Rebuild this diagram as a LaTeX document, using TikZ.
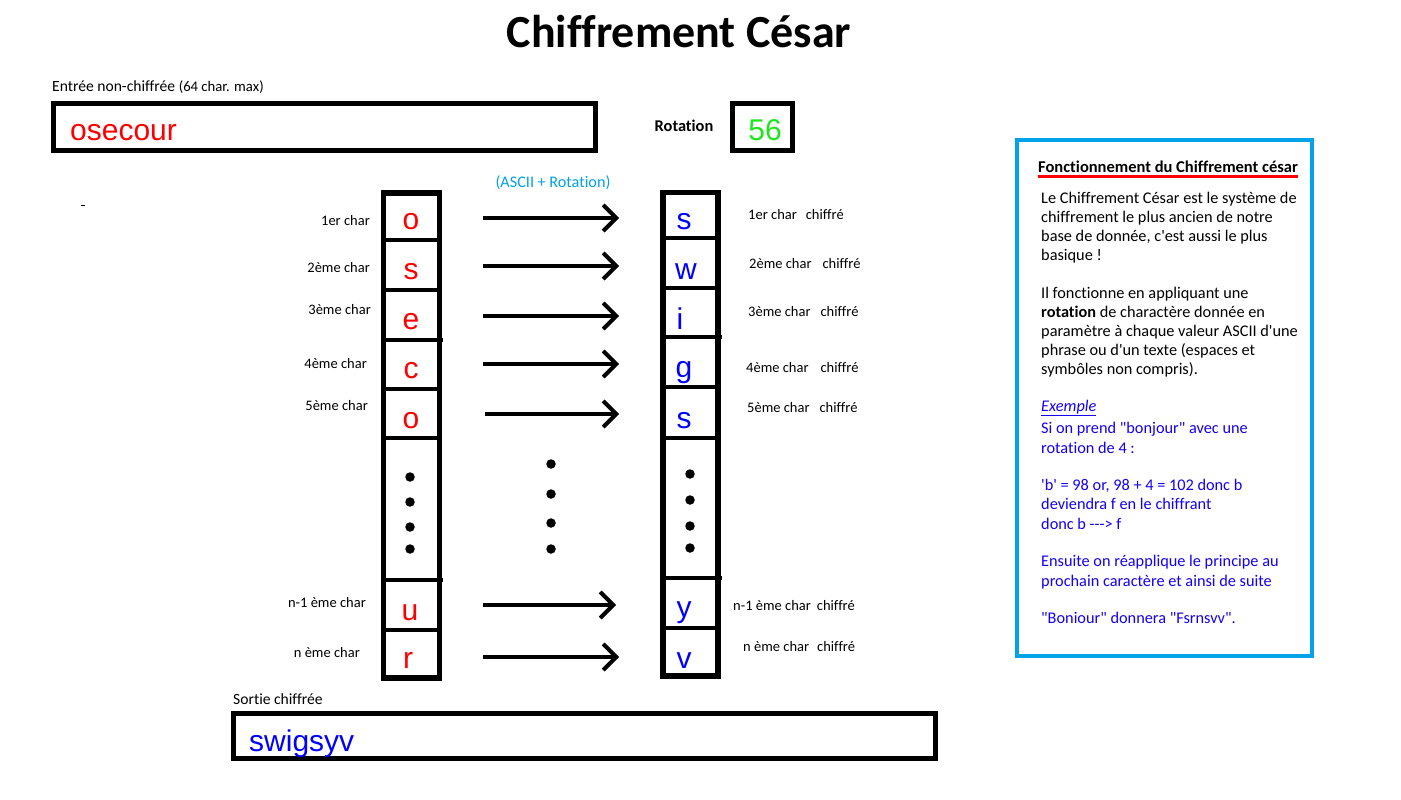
\documentclass[tikz,border=0pt]{standalone}
\usepackage{fontspec}
\setmainfont{Carlito}[Ligatures={TeXOff,NoCommon}]
\newfontfamily\arial{Liberation Sans}
\usetikzlibrary{arrows.meta}
\definecolor{paintblue}{RGB}{0,162,232}
\definecolor{txtblue}{RGB}{20,0,245}
\definecolor{letred}{RGB}{255,0,0}
\definecolor{letblue}{RGB}{0,0,255}
\definecolor{letgreen}{RGB}{30,230,30}
\begin{document}
\begin{tikzpicture}[x=1pt,y=-1pt,
  lbl/.style={font=\fontsize{14.5}{17}\selectfont, inner sep=0},
  midlbl/.style={font=\fontsize{15.6}{18}\selectfont, inner sep=0},
  lblL/.style={lbl, anchor=base east},
  lblR/.style={lbl, anchor=base west},
  bigletter/.style={font=\arial\fontsize{30}{30}\selectfont, inner sep=0, anchor=base},
  redl/.style={bigletter, text=letred},
  bluel/.style={bigletter, text=letblue},
  box/.style={draw, line width=5pt, inner sep=0, outer sep=0, anchor=north west},
  column/.style={draw, line width=5.5pt, inner sep=0, outer sep=0, anchor=north west},
  divider/.style={line width=3.5pt},
  arr/.style={line width=4pt, -{Straight Barb[length=13pt,width=26pt,line width=4pt]}},
  dot/.style={circle, fill, inner sep=0, minimum size=9.5pt},
  para/.style={font=\fontsize{16.3}{19.1}\selectfont, inner sep=0, align=left, anchor=base west}
]
\fill[white] (0,0) rectangle (1401,800);
\useasboundingbox (0,0) rectangle (1401,800);

% title
\node[font=\bfseries\fontsize{46}{46}\selectfont, inner sep=0] (title) at (679,32) {Chiffrement César};

% input
\node[midlbl, anchor=base west] (inlbl) at (52,92) {Entrée non-chiffrée \fontsize{14.7}{16}\selectfont(64 char. max)};
\node[box, minimum width=542pt, minimum height=47pt] (inbox) at (53.5,103.5) {};
\node[bigletter, anchor=base west, text=letred] (intext) at (70,140.5) {osecour};

% rotation
\node[inner sep=0, font=\bfseries\fontsize{16.4}{18}\selectfont] (rotlbl) at (684,126) {Rotation};
\node[box, minimum width=60pt, minimum height=47pt] (rotbox) at (732.5,103.5) {};
\node[bigletter, text=letgreen] (rottext) at (765,140.5) {56};

% stray mark
\draw[line width=1pt] (81,205) -- (85,205);

% columns
\node[column, minimum width=56pt, minimum height=485pt] (colL) at (383.5,193) {};
\node[column, minimum width=55pt, minimum height=483.5pt] (colR) at (663,192.5) {};
\foreach \y in {240,290,389,438,630} \draw[divider] (384,\y) -- (439,\y);
\foreach \y in {340,580} \draw[divider] (381,\y) -- (443,\y);
\foreach \y in {238,288,387,438,628} \draw[divider] (663,\y) -- (718,\y);
\foreach \y in {337,578} \draw[divider] (663,\y) -- (722,\y);

% left letters
\node[redl] (l1) at (411,229) {o};
\node[redl] (l2) at (411,279) {s};
\node[redl] (l3) at (411,329) {e};
\node[redl] (l4) at (411,378) {c};
\node[redl] (l5) at (411,428) {o};
\node[redl] (l6) at (410,620) {u};
\node[redl] (l7) at (408,668) {r};

% right letters
\node[bluel] (r1) at (684,229) {s};
\node[bluel] (r2) at (686,279) {w};
\node[bluel] (r3) at (680,329) {i};
\node[bluel] (r4) at (684,377) {g};
\node[bluel] (r5) at (684,428) {s};
\node[bluel] (r6) at (684,617) {y};
\node[bluel] (r7) at (684,668) {v};

% dots
\foreach \y [count=\i] in {477,502,527,549} \node[dot] (dl\i) at (410,\y) {};
\foreach \y [count=\i] in {464,494,523,549} \node[dot] (dm\i) at (551,\y) {};
\foreach \y [count=\i] in {474,500,526,548} \node[dot] (dr\i) at (690,\y) {};

% arrows
\node[inner sep=0, font=\fontsize{16.2}{18}\selectfont, text=paintblue] (asciilbl) at (553,183) {(ASCII + Rotation)};
\coordinate (a1) at (483,218); \coordinate (b1) at (619,218);
\coordinate (a2) at (483,266); \coordinate (b2) at (619,266);
\coordinate (a3) at (483,316); \coordinate (b3) at (619,316);
\coordinate (a4) at (483,364); \coordinate (b4) at (619,364);
\coordinate (a5) at (485,414); \coordinate (b5) at (619,414);
\coordinate (a6) at (483,605); \coordinate (b6) at (616,605);
\coordinate (a7) at (483,657); \coordinate (b7) at (619,657);
\foreach \i in {1,...,7} \draw[arr] (a\i) -- (b\i);

% left labels
\node[lblL] (ll1) at (370,225) {1er char};
\node[lblL] (ll2) at (370,272) {2ème char};
\node[lblL] (ll3) at (371,314) {3ème char};
\node[lblL] (ll4) at (367,368) {4ème char};
\node[lblL] (ll5) at (368,410) {5ème char};
\node[lblL] (ll6) at (366,607) {n-1 ème char};
\node[lblL] (ll7) at (360,657) {n ème char};

% right labels
\node[lblR] (rl1) at (748,219) {1er char\hspace{9pt}chiffré};
\node[lblR] (rl2) at (749,268) {2ème char\hspace{11pt}chiffré};
\node[lblR] (rl3) at (748,316) {3ème char\hspace{10pt}chiffré};
\node[lblR] (rl4) at (746,372) {4ème char\hspace{12pt}chiffré};
\node[lblR] (rl5) at (747,412) {5ème char\hspace{10pt}chiffré};
\node[lblR] (rl6) at (733,610) {n-1 ème char\hspace{6pt}chiffré};
\node[lblR] (rl7) at (743,651) {n ème char\hspace{8pt}chiffré};

% output
\node[midlbl, anchor=base west] (outlbl) at (233,704) {Sortie chiffrée};
\node[box, minimum width=702pt, minimum height=45pt] (outbox) at (233.5,713.5) {};
\node[bigletter, anchor=base west, text=letblue] (outtext) at (249,751) {swigsyv};

% info panel
\node[draw=paintblue, line width=4pt, inner sep=0, outer sep=0, anchor=north west, minimum width=295pt, minimum height=516pt] (panel) at (1017,140) {};
\node[inner sep=0, anchor=base west, font=\bfseries\fontsize{16.5}{18}\selectfont] (ptitle) at (1038,172) {Fonctionnement du Chiffrement césar};
\draw[line width=2.5pt, letred] (ptitle.base west) ++(0,4.5) coordinate (ul1) -- (ul1 -| ptitle.east);
\node[para] (p1) at (1041,260.3) {Le Chiffrement César est le système de\\chiffrement le plus ancien de notre\\base de donnée, c'est aussi le plus\\basique !};
\node[para] (p2) at (1041,374.4) {Il fonctionne en appliquant une\\\textbf{rotation} de charactère donnée en\\paramètre à chaque valeur ASCII d'une\\phrase ou d'un texte (espaces et\\symbôles non compris).};
\node[para, text=txtblue] (p3) at (1041,411) {\underline{\itshape Exemple}};
\node[para, text=txtblue] (p4) at (1041,453) {Si on prend "bonjour" avec une\\rotation de 4 :};
\node[para, text=txtblue] (p5) at (1041,529) {'b' = 98 or, 98 + 4 = 102 donc b\\deviendra f en le chiffrant\\donc b ---> f};
\node[para, text=txtblue] (p6) at (1041,586) {Ensuite on réapplique le principe au\\prochain caractère et ainsi de suite};
\node[para, text=txtblue] (p7) at (1041,623) {"Boniour" donnera "Fsrnsvv".};
\end{tikzpicture}
\end{document}
